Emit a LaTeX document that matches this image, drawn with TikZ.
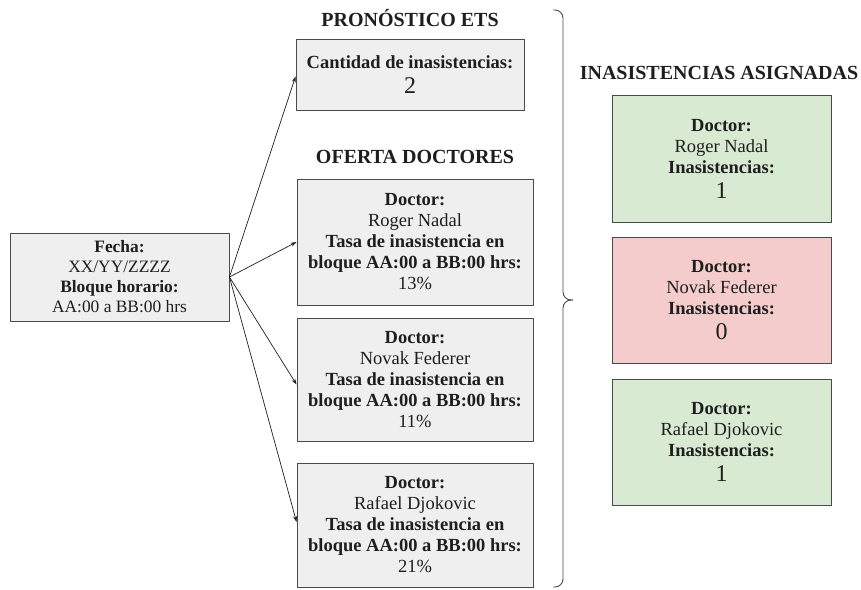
\documentclass[tikz,border=0pt]{standalone}
\usepackage{fontspec}
\setmainfont{Liberation Serif}
\usetikzlibrary{arrows.meta}
\definecolor{boxgray}{HTML}{EFEFEF}
\definecolor{boxgreen}{HTML}{D9EAD3}
\definecolor{boxred}{HTML}{F4CCCC}
\definecolor{edge}{HTML}{4A4A4A}
\definecolor{ink}{HTML}{1E1E1E}
\newcommand{\bignum}[1]{{\fontsize{24}{26}\selectfont #1}}
\begin{document}
\begin{tikzpicture}[x=1pt,y=-1pt,
  panel/.style={draw=edge, line width=0.9pt, fill=boxgray, align=center, text=ink,
    inner sep=0pt, font=\fontsize{18.5}{21}\selectfont},
  heading/.style={text=ink, font=\bfseries\fontsize{20}{22}\selectfont, inner sep=0pt},
  link/.style={draw=ink, line width=0.7pt, -{Stealth[length=6pt,width=4pt]}},
  brace/.style={draw=edge, line width=0.9pt, rounded corners=8pt}
]
\useasboundingbox (0,0) rectangle (861,589);

% headings
\node[heading] (hpron) at (410,18) {PRONÓSTICO ETS};
\node[heading] (hofer) at (415,157) {OFERTA DOCTORES};
\node[heading] (hasig) at (719,73) {INASISTENCIAS ASIGNADAS};

% input block
\node[panel, font=\fontsize{17.4}{20}\selectfont, minimum width=219pt, minimum height=88pt] (fecha) at (119.5,277)
  {\textbf{Fecha:}\\ XX/YY/ZZZZ\\ \textbf{Bloque horario:}\\ AA:00 a BB:00 hrs};

% forecast
\node[panel, minimum width=228pt, minimum height=71pt] (pron) at (410,74.5)
  {\textbf{Cantidad de inasistencias:}\\[4pt] \bignum{2}};

% doctor offer
\node[panel, minimum width=236pt, minimum height=126pt] (d1) at (415,242)
  {\textbf{Doctor:}\\ Roger Nadal\\ \textbf{Tasa de inasistencia en}\\ \textbf{bloque AA:00 a BB:00 hrs:}\\ 13\%};
\node[panel, minimum width=236pt, minimum height=123pt] (d2) at (415,379.5)
  {\textbf{Doctor:}\\ Novak Federer\\ \textbf{Tasa de inasistencia en}\\ \textbf{bloque AA:00 a BB:00 hrs:}\\ 11\%};
\node[panel, minimum width=236pt, minimum height=124pt] (d3) at (415,525)
  {\textbf{Doctor:}\\ Rafael Djokovic\\ \textbf{Tasa de inasistencia en}\\ \textbf{bloque AA:00 a BB:00 hrs:}\\ 21\%};

% assigned absences
\node[panel, fill=boxgreen, minimum width=219pt, minimum height=127pt] (a1) at (721.5,158.5)
  {\textbf{Doctor:}\\ Roger Nadal\\ \textbf{Inasistencias:}\\[4pt] \bignum{1}};
\node[panel, fill=boxred, minimum width=219pt, minimum height=126pt] (a2) at (721.5,300)
  {\textbf{Doctor:}\\ Novak Federer\\ \textbf{Inasistencias:}\\[4pt] \bignum{0}};
\node[panel, fill=boxgreen, minimum width=219pt, minimum height=126pt] (a3) at (721.5,442)
  {\textbf{Doctor:}\\ Rafael Djokovic\\ \textbf{Inasistencias:}\\[4pt] \bignum{1}};

% connectors
\draw[link] (fecha.east) -- ([yshift=-2pt]pron.west);
\draw[link] (fecha.east) -- (d1.west);
\draw[link] (fecha.east) -- ([yshift=-5pt]d2.west);
\draw[link] (fecha.east) -- ([yshift=3pt]d3.west);

% curly brace
\coordinate (btop) at (553,10);
\coordinate (bbot) at (553,587);
\coordinate (btip) at (573,300);
\draw[brace] (btop) -- (563,10) -- (563,300) -- (btip);
\draw[brace] (btip) -- (563,300) -- (563,587) -- (bbot);
\end{tikzpicture}
\end{document}
